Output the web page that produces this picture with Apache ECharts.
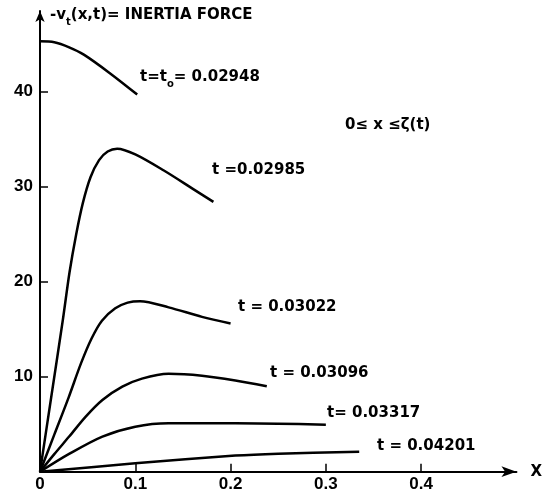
<!DOCTYPE html>
<html>
<head>
<meta charset="utf-8">
<script src="https://cdn.jsdelivr.net/npm/echarts@6/dist/echarts.min.js"></script>
<style>
html,body{margin:0;padding:0;background:#fff;}
#chart{width:545px;height:496px;}
</style>
</head>
<body>
<div id="chart"></div>
<script>
// ---- data ----
const xTickLabels = [0, 0.1, 0.2, 0.3, 0.4];
const yTickLabels = [10, 20, 30, 40];

const c1x = [0, 0.015, 0.03, 0.046, 0.074, 0.102];
const c1y = [45.3, 45.2, 44.7, 43.9, 41.9, 39.7];

const c2x = [0, 0.012, 0.024, 0.031, 0.038, 0.045, 0.053, 0.062, 0.071, 0.081, 0.1, 0.13, 0.16, 0.182];
const c2y = [0, 8.0, 16.0, 21.0, 25.0, 28.3, 31.0, 32.8, 33.7, 34.0, 33.4, 31.7, 29.8, 28.4];

const c3x = [0, 0.015, 0.03, 0.043, 0.054, 0.065, 0.079, 0.092, 0.105, 0.135, 0.17, 0.2];
const c3y = [0, 3.9, 7.8, 11.4, 14.0, 15.9, 17.2, 17.8, 17.95, 17.3, 16.3, 15.6];

const c4x = [0, 0.015, 0.0306, 0.048, 0.0655, 0.0864, 0.107, 0.135, 0.17, 0.205, 0.238];
const c4y = [0, 1.85, 3.7, 5.8, 7.55, 8.95, 9.8, 10.3, 10.1, 9.6, 9.0];

const c5x = [0, 0.031, 0.0655, 0.1, 0.135, 0.205, 0.25, 0.3];
const c5y = [0, 1.9, 3.7, 4.74, 5.1, 5.1, 5.05, 4.95];

const c6x = [0, 0.1, 0.205, 0.25, 0.335];
const c6y = [0, 0.88, 1.7, 1.9, 2.1];

const curveNames = ['0.02948', '0.02985', '0.03022', '0.03096', '0.03317', '0.04201'];
const curvesX = [c1x, c2x, c3x, c4x, c5x, c6x];
const curvesY = [c1y, c2y, c3y, c4y, c5y, c6y];

// ---- chart ----
const chart = echarts.init(document.getElementById('chart'));
const annFont = 'bold 15px "DejaVu Sans"';
const tickFont = { fontFamily: 'Liberation Sans', fontWeight: 'bold', fontSize: 17, color: '#000' };

function txt(x, y, text) {
  return { type: 'text', x: x, y: y, style: { text: text, font: annFont, fill: '#000', align: 'left', verticalAlign: 'middle' } };
}
function subTxt(x, y, a, s, b) {
  return {
    type: 'text', x: x, y: y,
    style: {
      text: '{a|' + a + '}{s|' + s + '}{a|' + b + '}',
      align: 'left', verticalAlign: 'middle',
      rich: {
        a: { fontFamily: 'DejaVu Sans', fontWeight: 'bold', fontSize: 15, lineHeight: 24, color: '#000' },
        s: { fontFamily: 'DejaVu Sans', fontWeight: 'bold', fontSize: 10, lineHeight: 10, color: '#000', verticalAlign: 'bottom' }
      }
    }
  };
}

const series = curvesX.map((xs, i) => ({
  type: 'line',
  name: curveNames[i],
  data: xs.map((x, j) => [x, curvesY[i][j]]),
  showSymbol: false,
  smooth: 0.3,
  lineStyle: { color: '#000', width: 2.5 },
  silent: true,
  animation: false
}));

chart.setOption({
  animation: false,
  backgroundColor: '#fff',
  grid: { left: 40, top: 10.95, width: 477.5, height: 460.75, containLabel: false },
  xAxis: {
    type: 'value', min: 0, max: 0.5, interval: 0.1,
    name: 'X', nameLocation: 'end', nameGap: 14,
    nameTextStyle: { fontFamily: 'DejaVu Sans', fontWeight: 'bold', fontSize: 15, color: '#000', verticalAlign: 'middle' },
    axisLine: { show: true, onZero: false, symbol: ['none', 'arrow'], symbolSize: [8, 15], lineStyle: { color: '#000', width: 2 } },
    axisTick: { show: true, inside: true, length: 8, customValues: [0.1, 0.2, 0.3, 0.4], lineStyle: { color: '#000', width: 1.5 } },
    axisLabel: { show: true, margin: 4, customValues: xTickLabels, formatter: v => String(v), ...tickFont },
    splitLine: { show: false }
  },
  yAxis: {
    type: 'value', min: 0, max: 48.5, interval: 10,
    axisLine: { show: true, onZero: false, symbol: ['none', 'arrow'], symbolSize: [7, 11], lineStyle: { color: '#000', width: 2 } },
    axisTick: { show: true, inside: true, length: 8, customValues: yTickLabels, lineStyle: { color: '#000', width: 1.5 } },
    axisLabel: { show: true, margin: 7, customValues: yTickLabels, ...tickFont },
    splitLine: { show: false }
  },
  graphic: [
    subTxt(50, 15, '-v', 't', '(x,t)= INERTIA FORCE'),
    subTxt(140, 77, 't=t', 'o', '= 0.02948'),
    txt(212, 170, 't =0.02985'),
    txt(345, 125, '0≤ x ≤ζ(t)'),
    txt(238, 307, 't = 0.03022'),
    txt(270, 373, 't = 0.03096'),
    txt(327, 413, 't= 0.03317'),
    txt(377, 446, 't = 0.04201')
  ],
  series: series
});
</script>
</body>
</html>
